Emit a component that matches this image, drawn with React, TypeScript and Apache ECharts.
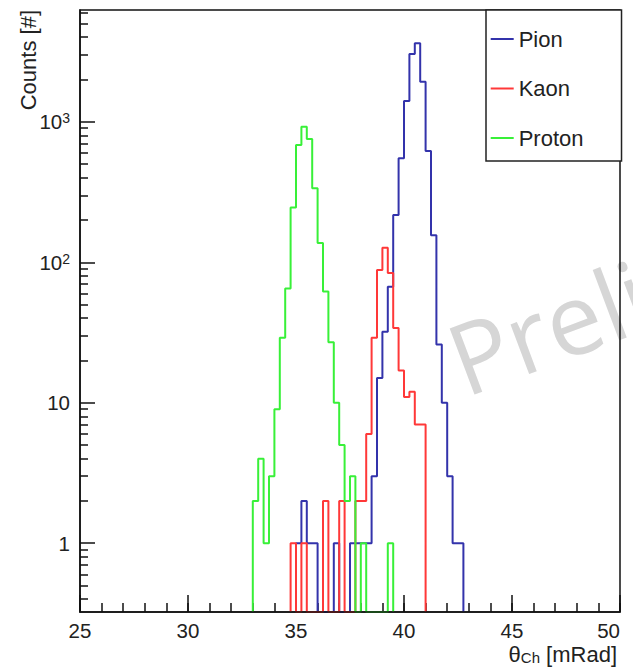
import React, { useEffect, useRef } from 'react';
import * as echarts from 'echarts';

// ---- data (bin width 0.25 mRad) ----
const BIN_WIDTH = 0.25;
const X_MIN = 25;
const X_MAX = 50;
const Y_MIN = 0.324;
const Y_MAX = 6250;

const SERIES_NAMES = ['Pion', 'Kaon', 'Proton'];

const PION_START = 35.0;
const PION_COUNTS = [1, 2, 1, 1, 0, 0, 0, 1, 0, 0, 1, 1, 1, 1, 3, 15, 32, 67, 217, 550, 1406, 3040, 3620, 1930, 620, 156, 26, 10, 3, 1, 1];

const KAON_START = 34.75;
const KAON_COUNTS = [1, 0, 1, 0, 0, 0, 2, 0, 0, 2, 0, 0, 2, 2, 6, 29, 88, 127, 84, 34, 17, 11, 12, 7, 7];

const PROTON_START = 33.0;
const PROTON_COUNTS = [2, 4, 1, 3, 9, 29, 65, 245, 684, 922, 755, 336, 137, 62, 27, 10, 5, 2, 3, 0, 1, 0, 0, 0, 0, 1];

const Y_MAJOR_TICKS = [1, 10, 100, 1000];
const Y_MINOR_TICKS = [0.4, 0.5, 0.6, 0.7, 0.8, 0.9, 2, 3, 4, 5, 6, 7, 8, 9, 20, 30, 40, 50, 60, 70, 80, 90, 200, 300, 400, 500, 600, 700, 800, 900, 2000, 3000, 4000, 5000, 6000];
const Y_LABELS: Record<number, string> = { 1: '1', 10: '10', 100: '10{sup|2}', 1000: '10{sup|3}' };

const COLORS = ['#3333ab', '#ff3838', '#38f038'];
const FONT = 'Liberation Sans, Arial, Helvetica, sans-serif';

function histPoints(start: number, counts: number[]) {
  const pts: number[][] = [[start, Y_MIN]];
  counts.forEach((c, i) => pts.push([start + i * BIN_WIDTH, c > 0 ? c : Y_MIN]));
  pts.push([start + counts.length * BIN_WIDTH, Y_MIN]);
  return pts;
}

export default function App() {
  const ref = useRef<HTMLDivElement>(null);
  useEffect(() => {
    if (!ref.current) return;
    const chart = echarts.init(ref.current, undefined, { renderer: 'svg' });
    const data = [
      histPoints(PION_START, PION_COUNTS),
      histPoints(KAON_START, KAON_COUNTS),
      histPoints(PROTON_START, PROTON_COUNTS),
    ];
    const axisLine = { show: true, lineStyle: { color: '#111', width: 1.5 } };
    chart.setOption({
      animation: false,
      backgroundColor: '#fff',
      grid: { left: 80, top: 10, right: 13, bottom: 55, show: true, borderColor: '#111', borderWidth: 1.5, backgroundColor: 'transparent', z: 3 },
      xAxis: [
        {
          type: 'value', min: X_MIN, max: X_MAX, interval: 5, position: 'bottom',
          axisLine,
          axisTick: { show: true, inside: true, length: 17, lineStyle: { color: '#111', width: 1.5 } },
          axisLabel: { fontSize: 20.5, color: '#222', fontFamily: FONT, margin: 8, alignMaxLabel: 'right' },
          splitLine: { show: false },
        },
        {
          type: 'value', min: X_MIN, max: X_MAX, interval: 1, position: 'bottom',
          axisLine: { show: false },
          axisTick: { show: true, inside: true, length: 9, lineStyle: { color: '#111', width: 1.5 } },
          axisLabel: { show: false },
          splitLine: { show: false },
        },
      ],
      yAxis: [
        {
          type: 'log', logBase: 10, min: Y_MIN, max: Y_MAX, position: 'left',
          axisLine,
          axisTick: { show: true, inside: true, length: 15, customValues: Y_MAJOR_TICKS, lineStyle: { color: '#111', width: 1.5 } },
          axisLabel: {
            customValues: Y_MAJOR_TICKS,
            margin: 10,
            fontSize: 20.5,
            color: '#222',
            fontFamily: FONT,
            formatter: (v: number) => Y_LABELS[Math.round(v)] ?? String(v),
            rich: {
              sup: { fontSize: 14, color: '#222', fontFamily: FONT, verticalAlign: 'top', lineHeight: 14, padding: [0, 0, 10, 0] },
            },
          },
          splitLine: { show: false },
        },
        {
          type: 'log', logBase: 10, min: Y_MIN, max: Y_MAX, position: 'left',
          axisLine: { show: false },
          axisTick: { show: true, inside: true, length: 8, customValues: Y_MINOR_TICKS, lineStyle: { color: '#111', width: 1.5 } },
          axisLabel: { show: false },
          splitLine: { show: false },
        },
      ],
      legend: {
        orient: 'vertical',
        left: 486,
        top: 10,
        data: SERIES_NAMES,
        icon: 'rect',
        itemWidth: 23,
        itemHeight: 2,
        itemGap: 27.5,
        padding: [18, 38, 12, 4.7],
        backgroundColor: '#fff',
        borderColor: '#222',
        borderWidth: 1.5,
        textStyle: { fontSize: 22, color: '#222', fontFamily: FONT },
        z: 10,
      },
      series: SERIES_NAMES.map((name, i) => ({
        name,
        type: 'line',
        step: 'end',
        data: data[i],
        xAxisIndex: 0,
        yAxisIndex: 0,
        showSymbol: false,
        symbol: 'none',
        color: COLORS[i],
        lineStyle: { color: COLORS[i], width: 2 },
        z: 2,
      })),
      graphic: [
        {
          type: 'text', x: 452, y: 362, rotation: 0.36, z: 0, silent: true,
          style: { text: 'Preliminary', fontSize: 99, fontFamily: 'Open Sans, sans-serif', fill: '#d6d6d6', align: 'left', verticalAlign: 'middle' },
        },
        {
          type: 'text', x: 28, y: 10, rotation: Math.PI / 2,
          style: { text: 'Counts [#]', fontSize: 22, fontFamily: FONT, fill: '#222', align: 'right', verticalAlign: 'middle' },
        },
        {
          type: 'text', x: 617, y: 654,
          style: {
            text: '{a|θ}{s|Ch}{a| [mRad]}', fontSize: 22, fontFamily: FONT, fill: '#222', align: 'right', verticalAlign: 'middle',
            rich: {
              a: { fontSize: 22, fontFamily: FONT, fill: '#222', lineHeight: 21 },
              s: { fontSize: 15, fontFamily: FONT, fill: '#222', lineHeight: 14, verticalAlign: 'bottom', padding: [10, 0, 0, 0] },
            },
          },
        },
      ],
    });
    return () => chart.dispose();
  }, []);
  return <div ref={ref} style={{ position: 'fixed', left: 0, top: 0, width: 633, height: 667 }} />;
}
